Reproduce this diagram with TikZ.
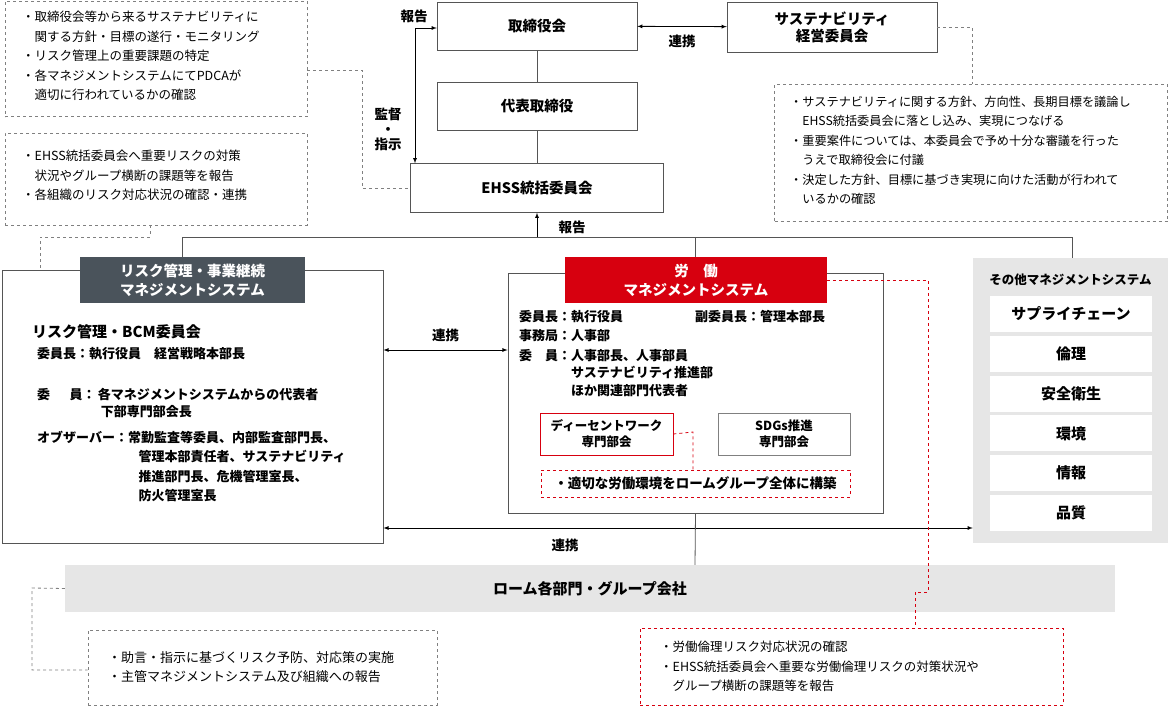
\documentclass[tikz,border=0pt]{standalone}
\usepackage{fontspec}
\setmainfont{Noto Sans CJK JP}
\usetikzlibrary{positioning}
\definecolor{darkgray}{HTML}{4A535B}
\definecolor{rohmred}{HTML}{D7000F}
\definecolor{lightgray}{HTML}{E6E6E6}
\definecolor{linegray}{HTML}{555555}
\begin{document}
\begin{tikzpicture}[
    x=1pt, y=-1pt,
    font=\fontsize{13}{15}\selectfont,
    box/.style={rectangle, draw=linegray, fill=white, font=\fontsize{14.5}{17}\selectfont\bfseries, align=center},
    note/.style={rectangle, draw=gray, dashed, thick, inner sep=0pt},
    rednote/.style={note, draw=rohmred},
    title/.style={rectangle, text=white, font=\fontsize{14.5}{19}\selectfont\bfseries, align=center},
    item/.style={rectangle, fill=white, minimum width=162, minimum height=36, font=\fontsize{15}{17}\selectfont\bfseries},
    label/.style={font=\fontsize{13.5}{15}\selectfont\bfseries},
    arrow/.style={thick,<->,>=latex},
    dline/.style={thick, gray, dashed},
    txt/.style={anchor=north west, align=left, inner sep=0pt}
]
    \useasboundingbox (0,0) rectangle (1170,709);

    % Top notes
    \node [note, minimum width=302, minimum height=115] (note1) at (156,59) {};
    \node [txt, font=\fontsize{12.5}{19.5}\selectfont] at (22,11) {・取締役会等から来るサステナビリティに\\\hspace{1em}関する方針・目標の遂行・モニタリング\\・リスク管理上の重要課題の特定\\・各マネジメントシステムにてPDCAが\\\hspace{1em}適切に行われているかの確認};
    \node [note, minimum width=302, minimum height=92] (note2) at (156,179) {};
    \node [txt, font=\fontsize{12.5}{19.5}\selectfont] at (22,150) {・EHSS統括委員会へ重要リスクの対策\\\hspace{1em}状況やグループ横断の課題等を報告\\・各組織のリスク対応状況の確認・連携};

    % Board
    \node [box, minimum width=200, minimum height=48] (board) at (537,26) {取締役会};
    \node [box, minimum width=210, minimum height=50] (susboard) at (832,27) {サステナビリティ\\経営委員会};
    \node [box, minimum width=200, minimum height=48] (ceo) at (537,106) {代表取締役};
    \node [box, minimum width=253, minimum height=49] (ehss) at (537,188) {EHSS統括委員会};
    \draw [arrow] (board) -- (susboard) node [midway, below=5pt, label] {連携};
    \draw [thick, linegray] (board) -- (ceo);
    \draw [thick, linegray] (ceo) -- (ehss);
    \coordinate (bl) at (415,28);
    \draw [arrow] (board.west |- bl) -| (ehss.north -| bl);
    \node [label] (rep1) at (414,16) {報告};
    \node [label, align=center, font=\fontsize{13.5}{15}\selectfont\bfseries] (sup) at (388,129) {監督\\・\\指示};

    % Sustainability note
    \node [note, minimum width=393, minimum height=137] (note3) at (971,153) {};
    \node [txt, font=\fontsize{12.2}{19.5}\selectfont] at (790,96) {・サステナビリティに関する方針、方向性、長期目標を議論し\\\hspace{1em}EHSS統括委員会に落とし込み、実現につなげる\\・重要案件については、本委員会で予め十分な審議を行った\\\hspace{1em}うえで取締役会に付議\\・決定した方針、目標に基づき実現に向けた活動が行われて\\\hspace{1em}いるかの確認};
    \draw [dline] (susboard.east) -- (972,27) -- (note3.north -| 972,0);
    \draw [dline] (note1.east |- 0,70) -- (362,70) -- (362,188) -- (ehss.west);
    \draw [dline] (note2.south -| 150,0) -- (150,237) -- (40,237) -- (40,270);

    % Distribution
    \coordinate (dl) at (182,237);
    \coordinate (dr) at (1072,237);
    \draw [thick, linegray] (dl) -- (dr);
    \draw [thick, linegray] (dl) -- (182,258);
    \draw [thick, linegray] (695,237) -- (695,258);
    \draw [thick, linegray] (dr) -- (1072,258);
    \draw [thick, ->, >=latex] (537,237) -- (ehss.south);
    \node [label] at (572,227) {報告};

    % Risk box
    \node [rectangle, draw=linegray, thick, minimum width=381, minimum height=273] (risk) at (192.5,406.5) {};
    \node [title, fill=darkgray, minimum width=225, minimum height=46] (risktitle) at (192.5,280) {リスク管理・事業継続\\マネジメントシステム};
    \node [txt, font=\fontsize{15}{17}\selectfont\bfseries] at (32,324) {リスク管理・BCM委員会};
    \node [txt, font=\fontsize{13}{19}\selectfont\bfseries] at (37,347) {委員長：執行役員　経営戦略本部長};
    \node [txt, font=\fontsize{13}{17}\selectfont\bfseries] at (37,388) {委\hspace{1.5em}員：\,各マネジメントシステムからの代表者\\\hspace{4.9em}下部専門部会長};
    \node [txt, font=\fontsize{13}{19.3}\selectfont\bfseries] at (37,431) {オブザーバー：常勤監査等委員、内部監査部門長、\\\hspace{7.8em}管理本部責任者、サステナビリティ\\\hspace{7.8em}推進部門長、危機管理室長、\\\hspace{7.8em}防火管理室長};

    % Labor box
    \node [rectangle, draw=linegray, thick, minimum width=375, minimum height=240] (labor) at (695.5,393) {};
    \node [title, fill=rohmred, minimum width=262, minimum height=46] (labortitle) at (696,280) {労　働\\マネジメントシステム};
    \node [txt, font=\fontsize{13}{19.5}\selectfont\bfseries] at (519,310) {委員長：執行役員\\事務局：人事部};
    \node [txt, font=\fontsize{13}{19.5}\selectfont\bfseries] at (695,310) {副委員長：管理本部長};
    \node [txt, font=\fontsize{13}{17.5}\selectfont\bfseries] at (519,349) {委\hspace{1em}員：人事部長、人事部員\\\hspace{4em}サステナビリティ推進部\\\hspace{4em}ほか関連部門代表者};
    \node [box, draw=rohmred, thick, minimum width=133, minimum height=42, font=\fontsize{12.5}{16}\selectfont\bfseries] (decent) at (606.5,434) {ディーセントワーク\\専門部会};
    \node [box, draw=gray, thick, minimum width=132, minimum height=42, font=\fontsize{12.5}{16}\selectfont\bfseries] (sdgs) at (784,434) {SDGs推進\\専門部会};
    \node [rednote, minimum width=309, minimum height=27] (note4) at (695.5,483.5) {};
    \node [font=\fontsize{13.5}{15}\selectfont\bfseries] at (695.5,483.5) {・適切な労働環境をロームグループ全体に構築};
    \draw [dline, rohmred] (decent.east) -- (693,432) -- (note4.north -| 693,0);

    % Other box
    \node [rectangle, fill=lightgray, minimum width=195, minimum height=285] (other) at (1070.5,400.5) {};
    \node [font=\fontsize{12.5}{14}\selectfont\bfseries] at (1070.5,280) {その他マネジメントシステム};
    \foreach \t [count=\i from 0] in {サプライチェーン,倫理,安全衛生,環境,情報,品質}
        \node [item] (ms\i) at (1071,314+39.8*\i) {\t};

    % Links
    \draw [arrow] (risk.east |- 0,350) -- (labor.west |- 0,350) node [midway, above=4pt, label] {連携};
    \draw [arrow] (risk.east |- 0,528) -- (other.west |- 0,528);
    \node [label] at (565,545) {連携};
    \draw [thick, linegray] (labor.south) -- (695,565);

    % Bottom
    \node [rectangle, fill=lightgray, minimum width=1050, minimum height=47, font=\fontsize{15}{17}\selectfont\bfseries] (rohm) at (590,588.5) {ローム各部門・グループ会社};
    \node [note, minimum width=349, minimum height=75] (note5) at (262.5,667.5) {};
    \node [txt, font=\fontsize{13}{19.5}\selectfont] at (108,651) {・助言・指示に基づくリスク予防、対応策の実施\\・主管マネジメントシステム及び組織への報告};
    \draw [dline] (rohm.west) -- (32,588) -- (32,670) -- (note5.west |- 0,670);
    \node [rednote, minimum width=423, minimum height=77] (note6) at (851.5,666.5) {};
    \node [txt, font=\fontsize{12.5}{19.5}\selectfont] at (660,641) {・労働倫理リスク対応状況の確認\\・EHSS統括委員会へ重要な労働倫理リスクの対策状況や\\\hspace{1em}グループ横断の課題等を報告};
    \draw [dline, rohmred] (labortitle.east) -- (928,280) -- (928,592) -- (915,592) -- (note6.north -| 915,0);
\end{tikzpicture}
\end{document}
